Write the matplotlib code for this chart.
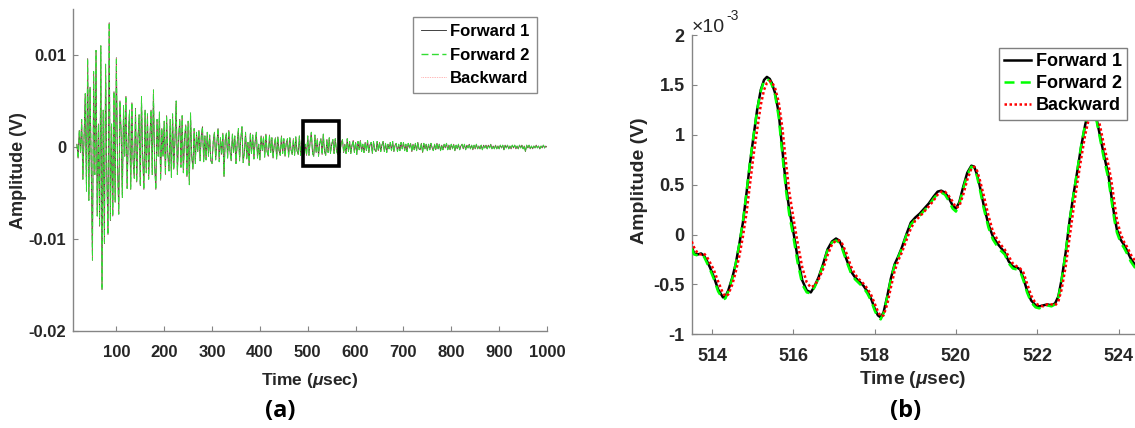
import numpy as np
import matplotlib
matplotlib.use("Agg")
import matplotlib.pyplot as plt
from matplotlib.patches import Rectangle
from matplotlib.ticker import FuncFormatter

# ---------------- data ----------------
series_names = ["Forward 1", "Forward 2", "Backward"]

# Panel (a): full record, amplitudes in mV (the three records coincide at this scale)
a_t0_early, a_dt_early = 17.5, 2.5
a_amp_early_mV = [
    0.3, -1.2, 1.8, -0.6, 3.0, -3.5, 1.2, 5.8, -4.8, 9.6,
    -5.8, 6.5, -2.0, -12.3, 8.2, -3.0, 10.5, -7.5, 2.5, -8.6,
    11.0, -15.5, 4.0, -10.5, 9.0, -3.0, -9.5, 13.5, -8.0, 2.5,
    -7.5, 6.0, -6.0, 9.7, -2.0, -7.3, 5.0, 1.5, -5.5, 4.5,
    -1.0, 5.5, -4.5, 1.2, 4.0, -4.6, 4.8, -1.5, -3.4, 4.2,
    -3.8, 0.8, 3.5, -4.2, 5.5, -1.0, -4.6, 4.0, -2.8, 3.6,
    -3.5, 1.0, 4.0, -3.0, 6.2, -2.0, -4.6, 3.0, -1.0, 3.8,
    -3.6, 2.0, -1.0, 2.8, -3.0, 3.4, -0.8, -2.6, 3.0, -3.3,
    3.6, -2.4, 0.8, 5.0, -3.0, 1.0, 3.0, -2.2, 3.4, -2.8,
    1.0, 2.4, -3.2, 2.8, -4.1, 3.7, -1.0, -2.4, 2.0, -1.8,
    1.6, -0.5, 1.8, -1.5, 1.2, 2.2, -1.6, 1.2, -1.4, 1.6,
    -1.0, 1.3, -1.5,
]
a_t0_late, a_dt_late = 300.0, 2.5
a_amp_late_mV = [
    -1.8, 0.6, 1.6, -1.4, 0.4, 2.0, -1.6, 1.0, -0.8, 1.5,
    -3.2, 0.8, 1.5, -1.2, 1.8, -0.5, -1.5, 1.4, -0.6, 1.2,
    -1.8, 0.4, 2.0, -1.5, 0.9, 2.2, -1.7, -0.6, 1.6, -1.3,
    0.5, -2.0, 1.5, -0.7, 1.3, -1.3, 0.6, 1.6, -1.2, 0.3,
    -1.4, 1.2, -0.4, 1.1, -1.1, 1.4, -0.5, -1.0, 1.3, -0.6,
    1.0, -1.2, 0.3, 1.0, -1.3, 1.1, -0.4, -0.9, 1.2, -0.7,
    0.9, -1.0, 0.4, 0.9, -1.1, 1.0, -0.3, -0.8, 0.9, -0.9,
    1.1, -0.4, -0.8, 1.2, -0.9, 0.5, 1.0, -0.8, 0.3, -0.9,
    1.2, -0.9, 0.6, 1.6, -0.7, -1.0, 1.3, -0.6, 0.9, -1.0,
    0.4, 0.9, -0.8, 1.4, -0.5, -0.9, 0.8, -0.6, 1.0, -0.7,
    0.3, 0.8, -0.7, 0.9, -0.4, -0.8, 0.7, -0.6, 0.5, 0.8,
    -0.6, 0.3, -0.7, 0.9, -0.5, 0.6, -0.7, 0.2, 0.7, -0.6,
    0.5, -0.8, 0.6, -0.3, 0.7, -0.5, 0.3, -0.6, 0.5, -0.4,
    0.7, -0.6, 0.2, 0.5, -0.7, 0.6, -0.3, -0.5, 0.6, -0.4,
    0.5, -0.5, 0.2, 0.6, -0.5, 0.4, -0.6, 0.3, -0.2, 0.5,
    -0.4, 0.6, -0.5, 0.2, 0.4, -0.5, 0.3, -0.4, 0.5, -0.2,
    0.5, -0.4, 0.3, -0.5, 0.4, -0.1, 0.4, -0.5, 0.3, -0.3,
    0.4, -0.4, 0.5, -0.2, -0.3, 0.4, -0.6, 0.4, -0.2, 0.3,
    -0.4, 0.3, -0.3, 0.4, -0.1, -0.4, 0.3, -0.3, 0.4, -0.2,
    0.3, -0.4, 0.2, -0.3, 0.3, -0.1, 0.4, -0.3, 0.2, -0.3,
    0.3, -0.2, 0.3, -0.4, 0.2, -0.2, 0.3, -0.3, 0.1, 0.3,
    -0.2, 0.3, -0.3, 0.2, -0.1, 0.3, -0.2, 0.2, -0.3, 0.2,
    -0.2, 0.3, -0.2, 0.1, -0.2, 0.2, -0.3, 0.2, -0.1, 0.2,
    -0.2, 0.2, -0.1, 0.3, -0.2, 0.1, -0.2, 0.2, -0.2, 0.1,
    -0.2, 0.2, -0.1, 0.2, -0.3, 0.2, -0.1, 0.2, -0.2, 0.1,
    -0.2, 0.2, -0.1, 0.2, -0.2, 0.1, -0.2, 0.2, -0.1, 0.2,
    -0.2, 0.1, -0.5, 0.2, -0.1, 0.2, -0.2, 0.1, -0.2, 0.1,
    -0.1, 0.2, -0.1, 0.1, -0.2, 0.1, -0.1, 0.2, -0.1, 0.1,
    0.0,
]
a_xlim = [10, 1000]
a_ylim = [-0.02, 0.015]
a_xticks = [100, 200, 300, 400, 500, 600, 700, 800, 900, 1000]
a_yticks = [-0.02, -0.01, 0, 0.01]
zoom_box_t = [491, 565]
zoom_box_amp = [-0.0021, 0.0028]

# Panel (b): zoomed window, amplitudes in units of 1e-3 V
b_t = [
    513.50, 513.56, 513.65, 513.73, 513.80, 513.87, 513.95, 514.04, 514.15, 514.27,
    514.33, 514.40, 514.50, 514.58, 514.67, 514.76, 514.85, 514.93, 515.02, 515.11,
    515.20, 515.28, 515.35, 515.42, 515.47, 515.55, 515.64, 515.73, 515.82, 515.90,
    516.00, 516.10, 516.22, 516.33, 516.43, 516.52, 516.62, 516.73, 516.84, 516.95,
    517.05, 517.13, 517.20, 517.30, 517.42, 517.52, 517.62, 517.72, 517.82, 517.92,
    518.00, 518.08, 518.15, 518.22, 518.31, 518.40, 518.49, 518.58, 518.67, 518.78,
    518.89, 519.00, 519.11, 519.22, 519.33, 519.45, 519.55, 519.64, 519.73, 519.82,
    519.92, 520.00, 520.08, 520.18, 520.28, 520.38, 520.45, 520.52, 520.58, 520.68,
    520.80, 520.91, 521.02, 521.10, 521.20, 521.30, 521.40, 521.50, 521.58, 521.66,
    521.75, 521.85, 521.96, 522.05, 522.15, 522.25, 522.35, 522.44, 522.52, 522.60,
    522.70, 522.80, 522.90, 522.98, 523.08, 523.18, 523.28, 523.36, 523.45, 523.55,
    523.65, 523.75, 523.82, 523.90, 523.96, 524.05, 524.13, 524.22, 524.30, 524.40,
    524.50,
]
b_forward1 = [
    -0.12, -0.19, -0.20, -0.19, -0.21, -0.26, -0.33, -0.42, -0.55, -0.63,
    -0.62, -0.56, -0.43, -0.30, -0.10, 0.12, 0.42, 0.70, 0.98, 1.25,
    1.45, 1.55, 1.58, 1.56, 1.52, 1.42, 1.22, 0.85, 0.49, 0.25,
    0.03, -0.22, -0.46, -0.56, -0.58, -0.52, -0.43, -0.30, -0.15, -0.07,
    -0.04, -0.06, -0.12, -0.24, -0.37, -0.43, -0.47, -0.51, -0.57, -0.65,
    -0.74, -0.81, -0.83, -0.78, -0.62, -0.44, -0.30, -0.22, -0.13, 0.00,
    0.12, 0.17, 0.21, 0.26, 0.31, 0.38, 0.43, 0.44, 0.42, 0.37,
    0.29, 0.26, 0.32, 0.48, 0.62, 0.69, 0.68, 0.60, 0.50, 0.30,
    0.10, -0.02, -0.09, -0.13, -0.18, -0.27, -0.32, -0.33, -0.35, -0.44,
    -0.56, -0.66, -0.71, -0.72, -0.71, -0.70, -0.71, -0.69, -0.62, -0.45,
    -0.18, 0.15, 0.42, 0.62, 0.88, 1.10, 1.26, 1.30, 1.18, 0.98,
    0.78, 0.60, 0.40, 0.18, 0.05, -0.05, -0.10, -0.17, -0.24, -0.30,
    -0.34,
]
b_forward2 = [
    -0.14, -0.20, -0.21, -0.20, -0.22, -0.28, -0.35, -0.44, -0.57, -0.65,
    -0.64, -0.57, -0.44, -0.30, -0.10, 0.13, 0.43, 0.71, 0.99, 1.25,
    1.44, 1.54, 1.56, 1.54, 1.50, 1.40, 1.18, 0.80, 0.44, 0.20,
    -0.02, -0.27, -0.50, -0.58, -0.59, -0.53, -0.44, -0.31, -0.16, -0.08,
    -0.06, -0.08, -0.14, -0.26, -0.39, -0.45, -0.49, -0.53, -0.59, -0.67,
    -0.76, -0.83, -0.85, -0.79, -0.63, -0.45, -0.31, -0.23, -0.14, -0.01,
    0.10, 0.15, 0.19, 0.24, 0.29, 0.36, 0.41, 0.42, 0.40, 0.34,
    0.26, 0.23, 0.30, 0.46, 0.60, 0.68, 0.67, 0.58, 0.47, 0.27,
    0.07, -0.05, -0.12, -0.16, -0.20, -0.29, -0.34, -0.35, -0.37, -0.46,
    -0.58, -0.68, -0.73, -0.74, -0.72, -0.71, -0.72, -0.70, -0.63, -0.46,
    -0.18, 0.15, 0.42, 0.63, 0.89, 1.11, 1.27, 1.30, 1.16, 0.95,
    0.74, 0.56, 0.36, 0.14, 0.02, -0.08, -0.13, -0.20, -0.27, -0.33,
    -0.36,
]
b_backward = [
    -0.07, -0.13, -0.19, -0.20, -0.19, -0.22, -0.28, -0.35, -0.47, -0.59,
    -0.62, -0.60, -0.50, -0.38, -0.22, -0.02, 0.22, 0.49, 0.79, 1.05,
    1.30, 1.45, 1.52, 1.54, 1.53, 1.47, 1.33, 1.07, 0.72, 0.43,
    0.17, -0.07, -0.33, -0.48, -0.53, -0.51, -0.45, -0.35, -0.21, -0.10,
    -0.06, -0.06, -0.09, -0.18, -0.32, -0.40, -0.45, -0.49, -0.54, -0.61,
    -0.69, -0.77, -0.82, -0.81, -0.70, -0.53, -0.37, -0.26, -0.18, -0.06,
    0.06, 0.14, 0.18, 0.23, 0.28, 0.34, 0.40, 0.43, 0.43, 0.39,
    0.33, 0.27, 0.28, 0.40, 0.55, 0.66, 0.68, 0.64, 0.56, 0.40,
    0.19, 0.03, -0.05, -0.10, -0.15, -0.22, -0.29, -0.32, -0.34, -0.38,
    -0.49, -0.61, -0.69, -0.71, -0.72, -0.70, -0.70, -0.71, -0.67, -0.55,
    -0.32, -0.02, 0.28, 0.50, 0.76, 1.00, 1.18, 1.27, 1.25, 1.08,
    0.88, 0.70, 0.55, 0.32, 0.15, 0.01, -0.07, -0.13, -0.20, -0.26,
    -0.31,
]
b_xlim = [513.5, 524.42]
b_ylim = [-1, 2]
b_xticks = [514, 516, 518, 520, 522, 524]
b_yticks = [-1, -0.5, 0, 0.5, 1, 1.5, 2]

# ---------------- style ----------------
W, H = 1135, 428
TXT = "#262626"
AXC = "#858585"
FAM = ["Liberation Sans", "DejaVu Sans"]
plt.rcParams["font.family"] = FAM
plt.rcParams["font.weight"] = "bold"
plt.rcParams["axes.unicode_minus"] = False
plt.rcParams["mathtext.fontset"] = "custom"
plt.rcParams["mathtext.it"] = "Liberation Sans:italic"
plt.rcParams["mathtext.rm"] = "Liberation Sans"

fig = plt.figure(figsize=(W / 100, H / 100), dpi=100)
fig.patch.set_facecolor("white")


def px(x0, y_top, x1, y_bot):
    return [x0 / W, 1 - y_bot / H, (x1 - x0) / W, (y_bot - y_top) / H]


def style_axes(ax, size):
    for s in ["top", "right"]:
        ax.spines[s].set_visible(False)
    for s in ["left", "bottom"]:
        ax.spines[s].set_color(AXC)
        ax.spines[s].set_linewidth(1.0)
    ax.tick_params(direction="in", length=3.5, width=0.8, color=AXC,
                   labelsize=size, labelcolor=TXT)
    ax.tick_params(axis="x", pad=10)
    ax.tick_params(axis="y", pad=5)
    for lab in ax.get_xticklabels() + ax.get_yticklabels():
        lab.set_fontweight("bold")


fmt = FuncFormatter(lambda v, p: ("%g" % v))

# ----- panel (a) -----
ax1 = fig.add_axes(px(73.3, 9, 547, 331))
t_a = np.concatenate([a_t0_early + a_dt_early * np.arange(len(a_amp_early_mV)),
                      a_t0_late + a_dt_late * np.arange(len(a_amp_late_mV))])
amp_a = np.array(a_amp_early_mV + a_amp_late_mV) * 1e-3
ax1.plot(t_a, amp_a, color="#222222", lw=0.6, zorder=2, label=series_names[0])
ax1.plot(t_a, amp_a, color="#33dd33", lw=0.7, ls=(0, (5, 2.5)), zorder=4, label=series_names[1])
ax1.plot(t_a, amp_a, color="#ff7070", lw=0.5, ls=(0, (1, 1.5)), zorder=3, label=series_names[2])
ax1.add_patch(Rectangle((zoom_box_t[0], zoom_box_amp[0]),
                        zoom_box_t[1] - zoom_box_t[0], zoom_box_amp[1] - zoom_box_amp[0],
                        fill=False, edgecolor="black", lw=2.6, zorder=6))
ax1.set_xlim(a_xlim)
ax1.set_ylim(a_ylim)
ax1.set_xticks(a_xticks)
ax1.set_yticks(a_yticks)
ax1.yaxis.set_major_formatter(fmt)
style_axes(ax1, 12)
leg1 = ax1.legend(loc="upper right", bbox_to_anchor=(537 / W, 1 - 16.7 / H),
                  bbox_transform=fig.transFigure, borderaxespad=0,
                  prop={"weight": "bold", "size": 12},
                  frameon=True, fancybox=False,
                  edgecolor="#8a8a8a", framealpha=1, handlelength=1.5,
                  handletextpad=0.25, labelspacing=0.5, borderpad=0.45)
leg1.get_frame().set_linewidth(1.0)
leg1.get_lines()[1].set_linewidth(1.0)

# ----- panel (b) -----
ax2 = fig.add_axes(px(691.7, 35, 691.7 + (b_xlim[1] - b_xlim[0]) * 40.65, 334.3))
ax2.plot(b_t, b_forward1, color="black", lw=1.8, zorder=2, label=series_names[0])
ax2.plot(b_t, b_forward2, color="#00ff00", lw=1.8, ls=(0, (4, 2.5)), zorder=3, label=series_names[1])
ax2.plot(b_t, b_backward, color="#ff0000", lw=1.8, ls=(0, (1, 1)), zorder=4, label=series_names[2])
ax2.set_xlim(b_xlim)
ax2.set_ylim(b_ylim)
ax2.set_xticks(b_xticks)
ax2.set_yticks(b_yticks)
ax2.yaxis.set_major_formatter(fmt)
style_axes(ax2, 13)
leg2 = ax2.legend(loc="upper right", bbox_to_anchor=(1127 / W, 1 - 47.7 / H),
                  bbox_transform=fig.transFigure, borderaxespad=0,
                  prop={"weight": "bold", "size": 13},
                  frameon=True, fancybox=False,
                  edgecolor="#7f7f7f", framealpha=1, handlelength=1.5,
                  handletextpad=0.25, labelspacing=0.28, borderpad=0.3)
leg2.get_frame().set_linewidth(1.0)
leg2.set_zorder(10)

# ----- labels -----
fig.text(310 / W, 1 - 380 / H, r"Time ($\mu$sec)", ha="center", va="center",
         fontsize=12.5, fontweight="bold", color=TXT)
fig.text(913 / W, 1 - 380 / H, r"Time ($\mu$sec)", ha="center", va="center",
         fontsize=13.8, fontweight="bold", color=TXT)
fig.text(18.5 / W, 1 - 171 / H, "Amplitude (V)", ha="center", va="center",
         rotation=90, fontsize=13, fontweight="bold", color=TXT)
fig.text(639 / W, 1 - 181 / H, "Amplitude (V)", ha="center", va="center",
         rotation=90, fontsize=14, fontweight="bold", color=TXT)
fig.text(692 / W, 1 - 27 / H, "\u00d710", ha="left", va="center",
         fontsize=14, fontweight="normal", color=TXT)
fig.text(726 / W, 1 - 16 / H, "-3", ha="left", va="center",
         fontsize=10, fontweight="normal", color=TXT)
fig.text(280 / W, 1 - 411 / H, "(a)", ha="center", va="center",
         fontsize=17, fontweight="bold", color="black", family=["Open Sans", "DejaVu Sans"])
fig.text(906 / W, 1 - 411 / H, "(b)", ha="center", va="center",
         fontsize=17, fontweight="bold", color="black", family=["Open Sans", "DejaVu Sans"])

fig.savefig("out.png", dpi=100, facecolor="white")
